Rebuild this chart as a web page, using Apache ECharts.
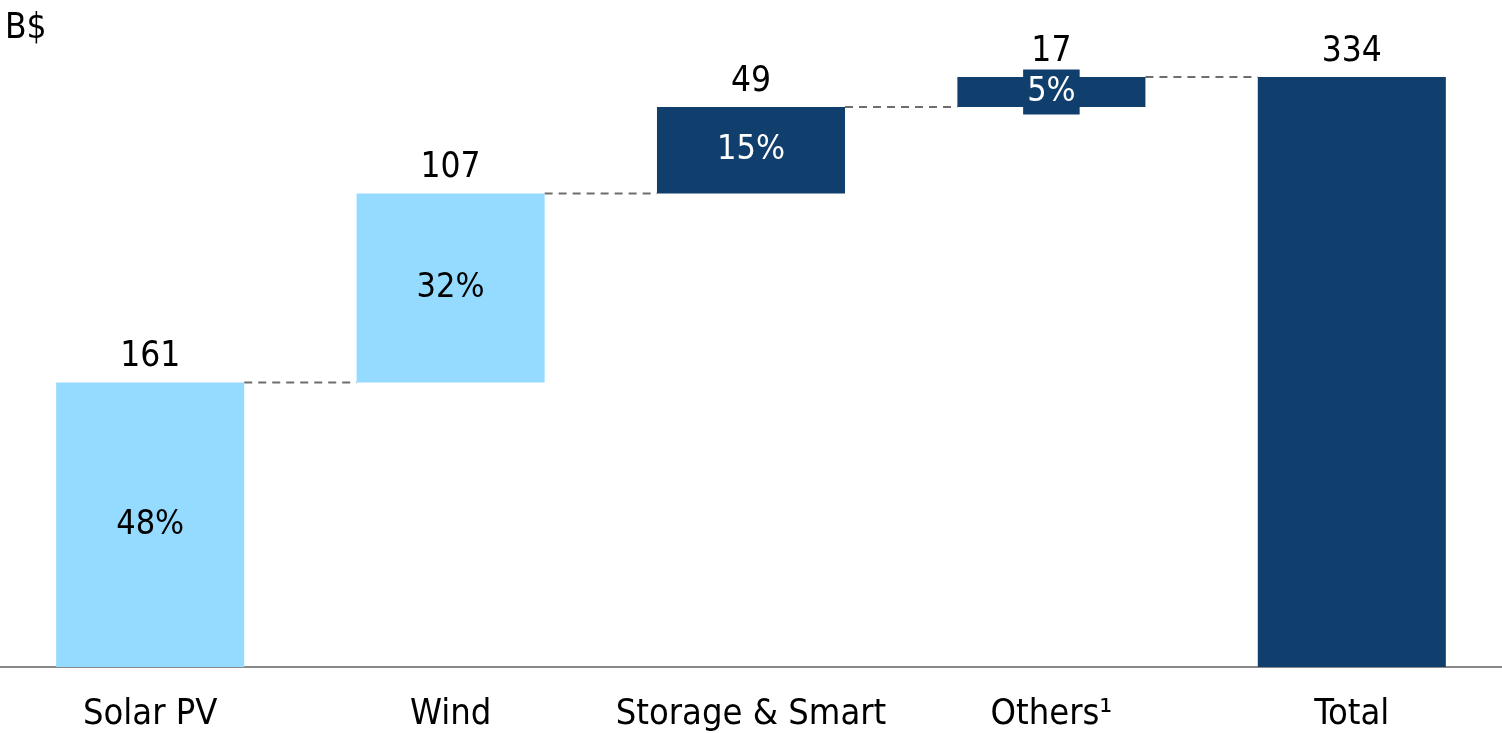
<!DOCTYPE html>
<html>
<head>
<meta charset="utf-8">
<script src="https://cdn.jsdelivr.net/npm/echarts@6/dist/echarts.min.js"></script>
<style>
html,body{margin:0;padding:0;background:#fff;}
#chart{width:1502px;height:733px;}
</style>
</head>
<body>
<div id="chart"></div>
<script>
// ---- data ----
const categories = ['Solar PV', 'Wind', 'Storage & Smart', 'Others\u00B9', 'Total'];
const values = [161, 107, 49, 17, 334];
const shares = [48, 32, 15, 5, null];
const isTotal = [false, false, false, false, true];
const unitLabel = 'B$';

// ---- styles ----
const LIGHT = '#94DBFF';
const DARK = '#103F6D';
const barColors = [LIGHT, LIGHT, DARK, DARK, DARK];
const shareTextColors = ['#000', '#000', '#fff', '#fff', '#fff'];
const FONT = '"DejaVu Sans Condensed", "DejaVu Sans", sans-serif';
const FS = 35;
const FS_AXIS = 36;
const FS_SHARE = 34;
const BAR_RATIO = 0.626;

// waterfall bases
const bases = [];
const tops = [];
let run = 0;
values.forEach((v, i) => {
  if (isTotal[i]) { bases.push(0); tops.push(v); }
  else { bases.push(run); run += v; tops.push(run); }
});

const chart = echarts.init(document.getElementById('chart'));

const valueData = values.map((v, i) => {
  const item = { value: v, itemStyle: { color: barColors[i] } };
  if (shares[i] == null) {
    item.label = { show: false };
  } else if (i === 3) {
    item.label = {
      show: true,
      color: '#fff',
      backgroundColor: DARK,
      padding: [3, 4, 3, 4],
      lineHeight: 39
    };
  } else {
    item.label = { show: true, color: shareTextColors[i] };
  }
  return item;
});

const option = {
  animation: false,
  textStyle: { fontFamily: FONT },
  title: {
    text: unitLabel,
    left: 0,
    top: 6,
    textStyle: { fontFamily: FONT, fontSize: FS, fontWeight: 'normal', color: '#000' }
  },
  grid: { left: 0, right: 0, top: 77, bottom: 64, containLabel: false },
  xAxis: {
    type: 'category',
    data: categories,
    axisLine: { show: true, lineStyle: { color: '#888', width: 2 } },
    axisTick: { show: false },
    axisLabel: {
      fontFamily: FONT, fontSize: FS_AXIS, color: '#000', margin: 30, interval: 0
    }
  },
  yAxis: {
    type: 'value',
    min: 0,
    max: 334,
    show: false,
    splitLine: { show: false }
  },
  series: [
    {
      name: 'base',
      type: 'bar',
      stack: 'w',
      barWidth: (BAR_RATIO * 100) + '%',
      itemStyle: { color: 'transparent' },
      emphasis: { disabled: true },
      data: bases,
      silent: true
    },
    {
      name: 'value',
      type: 'bar',
      stack: 'w',
      barWidth: (BAR_RATIO * 100) + '%',
      data: valueData,
      label: {
        show: true,
        position: 'inside',
        fontFamily: FONT,
        fontSize: FS_SHARE,
        formatter: p => shares[p.dataIndex] == null ? '' : shares[p.dataIndex] + '%'
      },
      z: 3
    },
    {
      name: 'connectors',
      type: 'custom',
      silent: true,
      z: 1,
      data: tops.slice(0, tops.length - 1).map((t, i) => [i, t]),
      renderItem: function (params, api) {
        const i = api.value(0);
        const t = api.value(1);
        const bw = api.size([1, 0])[0] * BAR_RATIO;
        const p1 = api.coord([i, t]);
        const p2 = api.coord([i + 1, t]);
        return {
          type: 'line',
          shape: { x1: p1[0] + bw / 2, y1: p1[1], x2: p2[0] - bw / 2, y2: p2[1] },
          style: { stroke: '#6e6e6e', lineWidth: 2, lineDash: [8, 6] }
        };
      }
    },
    {
      name: 'valueLabels',
      type: 'custom',
      silent: true,
      z: 4,
      data: tops.map((t, i) => [i, t, values[i]]),
      renderItem: function (params, api) {
        const p = api.coord([api.value(0), api.value(1)]);
        return {
          type: 'text',
          x: p[0],
          y: p[1] - 8,
          style: {
            text: String(api.value(2)),
            fill: '#000',
            font: FS + 'px ' + FONT,
            align: 'center',
            verticalAlign: 'bottom'
          }
        };
      }
    }
  ]
};

chart.setOption(option);
</script>
</body>
</html>
